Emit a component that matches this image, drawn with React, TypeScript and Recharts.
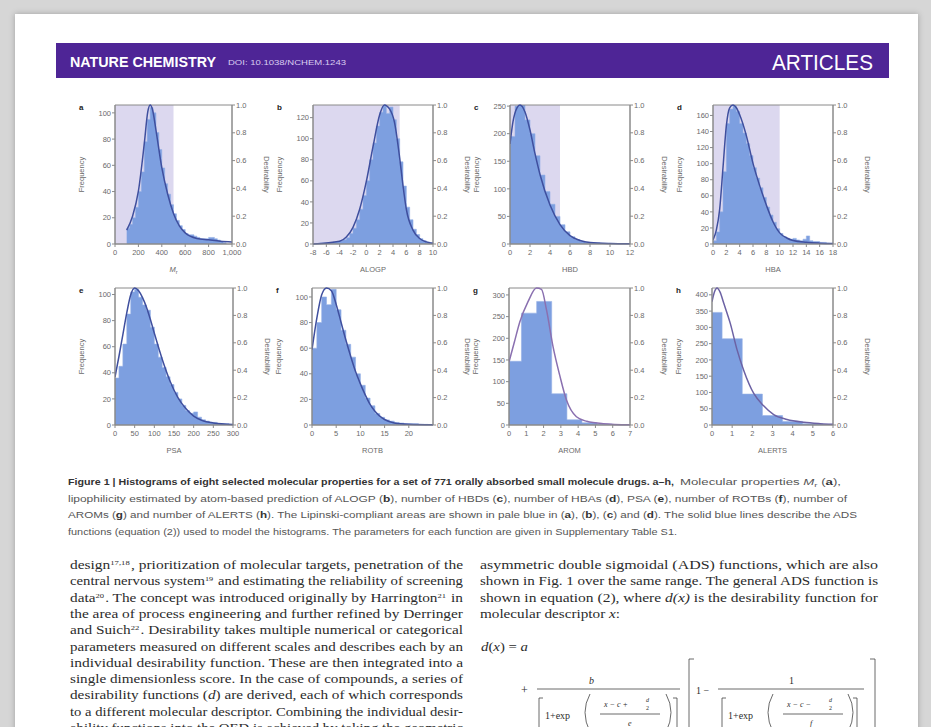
import React from "react";
import { ComposedChart, Area, Line, XAxis, YAxis, ReferenceArea } from "recharts";

// ── Histogram data (bin edges + counts), ADS curves (x + desirability) ──────

const mrEdges = [100, 125, 150, 175, 200, 225, 250, 275, 300, 325, 350, 375, 400, 425, 450, 475, 500, 525, 550, 575, 600, 625, 650, 675, 700, 725, 750, 775, 800, 825, 850, 875, 900, 925, 950];
const mrCounts = [12, 15, 20, 28, 40, 55, 78, 95, 104, 100, 85, 72, 58, 46, 38, 30, 23, 18, 14, 11, 8, 7, 7, 6, 5, 4, 4, 4, 5, 5, 4, 3, 2, 1];
const mrCurveX = [100, 150, 200, 250, 280, 300, 320, 350, 400, 450, 500, 550, 600, 700, 800, 900, 1000];
const mrCurveD = [0.1, 0.2, 0.38, 0.72, 0.95, 1.0, 0.97, 0.82, 0.55, 0.36, 0.22, 0.13, 0.08, 0.04, 0.03, 0.02, 0.015];

const alogpEdges = [-7, -6.5, -6, -5.5, -5, -4.5, -4, -3.5, -3, -2.5, -2, -1.5, -1, -0.5, 0, 0.5, 1, 1.5, 2, 2.5, 3, 3.5, 4, 4.5, 5, 5.5, 6, 6.5, 7, 7.5, 8, 8.5, 9, 9.5, 10];
const alogpCounts = [1, 1, 1, 1, 2, 2, 3, 4, 6, 10, 15, 23, 33, 46, 60, 80, 96, 112, 125, 131, 124, 130, 118, 100, 78, 55, 35, 23, 14, 9, 5, 3, 2, 1];
const alogpCurveX = [-8, -4, -3, -2, -1, 0, 1, 2, 2.7, 3.5, 4.2, 5, 5.5, 6, 7, 8, 9, 10];
const alogpCurveD = [0.0, 0.02, 0.05, 0.12, 0.25, 0.45, 0.7, 0.93, 1.0, 0.97, 0.88, 0.62, 0.42, 0.25, 0.1, 0.04, 0.015, 0.005];

const hbdEdges = [0, 0.5, 1, 1.5, 2, 2.5, 3, 3.5, 4, 4.5, 5, 5.5, 6, 6.5, 7, 7.5, 8, 8.5, 9, 9.5, 10, 10.5, 11];
const hbdCounts = [195, 250, 255, 225, 200, 160, 125, 95, 72, 50, 35, 22, 13, 8, 5, 3, 2, 2, 1, 1, 1, 0.5];
const hbdCurveX = [0, 0.3, 0.7, 1, 1.5, 2, 2.5, 3, 4, 5, 6, 7, 8, 10, 12];
const hbdCurveD = [0.72, 0.88, 0.98, 1.0, 0.95, 0.82, 0.65, 0.5, 0.28, 0.14, 0.06, 0.025, 0.01, 0.003, 0.001];

const hbaEdges = [0, 0.5, 1, 1.5, 2, 2.5, 3, 3.5, 4, 4.5, 5, 5.5, 6, 6.5, 7, 7.5, 8, 8.5, 9, 9.5, 10, 10.5, 11, 11.5, 12, 12.5, 13, 13.5, 14, 14.5, 15, 15.5, 16, 16.5, 17, 17.5];
const hbaCounts = [4, 15, 40, 90, 150, 168, 172, 165, 150, 138, 125, 110, 95, 82, 70, 58, 46, 36, 27, 19, 13, 9, 7, 6, 7, 5, 4, 6, 10, 4, 3, 3, 2, 2, 1];
const hbaCurveX = [0, 0.5, 1, 1.5, 2, 2.5, 3, 3.5, 4, 5, 6, 7, 8, 9, 10, 11, 12, 14, 16, 18];
const hbaCurveD = [0.03, 0.1, 0.25, 0.55, 0.85, 0.98, 1.0, 0.98, 0.93, 0.78, 0.58, 0.42, 0.28, 0.16, 0.08, 0.045, 0.025, 0.012, 0.006, 0.003];

const psaEdges = [0, 10, 20, 30, 40, 50, 60, 70, 80, 90, 100, 110, 120, 130, 140, 150, 160, 170, 180, 190, 200, 210, 220, 230, 240, 250, 260, 270, 280, 290];
const psaCounts = [36, 45, 62, 85, 102, 104, 98, 92, 88, 75, 62, 52, 44, 37, 31, 25, 20, 15, 11, 9, 10, 6, 4, 3, 2, 2, 1, 1, 1];
const psaCurveX = [0, 10, 20, 30, 40, 50, 60, 70, 80, 90, 100, 120, 140, 160, 180, 200, 220, 250, 300];
const psaCurveD = [0.35, 0.5, 0.66, 0.82, 0.95, 1.0, 0.98, 0.93, 0.86, 0.77, 0.67, 0.48, 0.32, 0.2, 0.12, 0.065, 0.035, 0.015, 0.004];

const rotbEdges = [0, 1, 2, 3, 4, 5, 6, 7, 8, 9, 10, 11, 12, 13, 14, 15, 16, 17, 18, 19, 20, 21, 22, 23, 24];
const rotbCounts = [60, 80, 100, 94, 106, 90, 74, 63, 53, 40, 31, 21, 15, 9, 6, 4, 3, 2, 1.5, 1, 1, 1, 0.5, 0.5];
const rotbCurveX = [0, 1, 2, 3, 4, 5, 6, 7, 8, 9, 10, 11, 12, 13, 14, 15, 17, 20, 25];
const rotbCurveD = [0.55, 0.78, 0.95, 1.0, 0.98, 0.88, 0.75, 0.62, 0.5, 0.39, 0.3, 0.22, 0.15, 0.1, 0.065, 0.04, 0.015, 0.005, 0.001];

const aromEdges = [0, 0.72, 1.6, 2.47, 3.35, 4.22, 5.1, 5.97];
const aromCounts = [147, 258, 285, 72, 12, 5, 2];
const aromCurveX = [0, 0.3, 0.62, 1.1, 1.59, 1.88, 2.17, 2.55, 2.94, 3.33, 3.9, 4.5, 5.45, 7];
const aromCurveD = [0.46, 0.6, 0.75, 0.9, 1.0, 0.99, 0.84, 0.57, 0.36, 0.18, 0.06, 0.027, 0.01, 0.002];

const alertsEdges = [0, 0.5, 1.5, 2.5, 3.5, 4.5, 5.5, 6];
const alertsCounts = [346, 265, 95, 29, 11, 4, 2];
const alertsCurveX = [0, 0.12, 0.25, 0.4, 0.58, 0.91, 1.24, 1.57, 2.07, 2.56, 3.06, 3.72, 4.55, 5.37, 6];
const alertsCurveD = [0.9, 0.97, 1.0, 0.97, 0.89, 0.74, 0.55, 0.4, 0.23, 0.14, 0.075, 0.04, 0.02, 0.01, 0.005];

// ── Tick labels ──────────────────────────────────────────────────────────────

const mrTicks = [0, 200, 400, 600, 800, 1000];
const alogpTicks = [-8, -6, -4, -2, 0, 2, 4, 6, 8, 10];
const hbdTicks = [0, 2, 4, 6, 8, 10, 12];
const hbaTicks = [0, 2, 4, 6, 8, 10, 12, 14, 16, 18];
const psaTicks = [0, 50, 100, 150, 200, 250, 300];
const rotbTicks = [0, 5, 10, 15, 20];
const aromTicks = [0, 1, 2, 3, 4, 5, 6, 7];
const alertsTicks = [0, 1, 2, 3, 4, 5, 6];
const freq100Ticks = [0, 20, 40, 60, 80, 100];
const freq120Ticks = [0, 20, 40, 60, 80, 100, 120];
const freq250Ticks = [0, 50, 100, 150, 200, 250];
const freq160Ticks = [0, 20, 40, 60, 80, 100, 120, 140, 160];
const freq300Ticks = [0, 50, 100, 150, 200, 250, 300];
const freq400Ticks = [0, 50, 100, 150, 200, 250, 300, 350, 400];
const desTicks = [0, 0.2, 0.4, 0.6, 0.8, 1.0];

// ── Styling ──────────────────────────────────────────────────────────────────

const SANS = "'Liberation Sans', Arial, sans-serif";
const SERIF = "'Liberation Serif', 'Times New Roman', serif";
const HIST = "#7d9fe0";
const SHADE = "#dcd8ef";
const AXIS = "#8a8a8a";
const TICK = "#6a6a6a";
const CURVE = "#3f4f9e";
const PURPLE = "#4e2596";

type Panel = {
  letter: string;
  title: React.ReactNode;
  left: number;
  top: number;
  w: number;
  h: number;
  edges: number[];
  counts: number[];
  curveX: number[];
  curveD: number[];
  xDomain: [number, number];
  xTicks: number[];
  yMax: number;
  yTicks: number[];
  shade?: [number, number];
  curveColor: string;
  fmtX?: (v: number) => string;
};

const panels: Panel[] = [
  { letter: "a", title: <><tspan fontStyle="italic">M</tspan><tspan fontSize={5.5} dy={1.5}>r</tspan></>, left: 115, top: 105, w: 117, h: 139, edges: mrEdges, counts: mrCounts, curveX: mrCurveX, curveD: mrCurveD, xDomain: [0, 1000], xTicks: mrTicks, yMax: 106, yTicks: freq100Ticks, shade: [0, 500], curveColor: CURVE, fmtX: (v) => (v === 1000 ? "1,000" : String(v)) },
  { letter: "b", title: "ALOGP", left: 313, top: 105, w: 120, h: 139, edges: alogpEdges, counts: alogpCounts, curveX: alogpCurveX, curveD: alogpCurveD, xDomain: [-8, 10], xTicks: alogpTicks, yMax: 132, yTicks: freq120Ticks, shade: [-8, 5], curveColor: CURVE },
  { letter: "c", title: "HBD", left: 510, top: 105, w: 120, h: 139, edges: hbdEdges, counts: hbdCounts, curveX: hbdCurveX, curveD: hbdCurveD, xDomain: [0, 12], xTicks: hbdTicks, yMax: 252, yTicks: freq250Ticks, shade: [0, 5], curveColor: CURVE },
  { letter: "d", title: "HBA", left: 713, top: 105, w: 120, h: 139, edges: hbaEdges, counts: hbaCounts, curveX: hbaCurveX, curveD: hbaCurveD, xDomain: [0, 18], xTicks: hbaTicks, yMax: 173, yTicks: freq160Ticks, shade: [0, 10], curveColor: CURVE },
  { letter: "e", title: "PSA", left: 115, top: 288, w: 118, h: 137, edges: psaEdges, counts: psaCounts, curveX: psaCurveX, curveD: psaCurveD, xDomain: [0, 300], xTicks: psaTicks, yMax: 105, yTicks: freq100Ticks, curveColor: CURVE },
  { letter: "f", title: "ROTB", left: 312, top: 288, w: 121, h: 137, edges: rotbEdges, counts: rotbCounts, curveX: rotbCurveX, curveD: rotbCurveD, xDomain: [0, 25], xTicks: rotbTicks, yMax: 107, yTicks: freq100Ticks, curveColor: CURVE },
  { letter: "g", title: "AROM", left: 509, top: 288, w: 121, h: 137, edges: aromEdges, counts: aromCounts, curveX: aromCurveX, curveD: aromCurveD, xDomain: [0, 7], xTicks: aromTicks, yMax: 316, yTicks: freq300Ticks, curveColor: "#8a70b0" },
  { letter: "h", title: "ALERTS", left: 712, top: 288, w: 121, h: 137, edges: alertsEdges, counts: alertsCounts, curveX: alertsCurveX, curveD: alertsCurveD, xDomain: [0, 6], xTicks: alertsTicks, yMax: 421, yTicks: freq400Ticks, curveColor: "#6c62a4" },
];

// merge histogram edges and curve samples into one table for the chart
function buildRows(p: Panel) {
  const rows: { x: number; f?: number; d?: number }[] = p.edges.map((x, i) => ({
    x,
    f: i < p.counts.length ? p.counts[i] : 0,
  }));
  p.curveX.forEach((x, i) => rows.push({ x, d: p.curveD[i] }));
  rows.sort((a, b) => a.x - b.x);
  return rows;
}

const ML = 28;
const MR = 28;
const MT = 6;
const XH = 16;
const tickStyle = { fontSize: 7.5, fill: TICK, fontFamily: SANS };

function HistPanel({ p }: { p: Panel }) {
  return (
    <div style={{ position: "absolute", left: p.left - ML, top: p.top - MT }}>
      <ComposedChart
        width={p.w + ML + MR}
        height={p.h + MT + XH}
        data={buildRows(p)}
        margin={{ top: MT, right: 0, bottom: 0, left: 0 }}
      >
        <XAxis
          type="number"
          dataKey="x"
          domain={p.xDomain}
          ticks={p.xTicks}
          interval={0}
          allowDataOverflow
          height={XH}
          tickSize={3}
          tickMargin={3}
          stroke={AXIS}
          tick={tickStyle}
          tickFormatter={p.fmtX}
        />
        <YAxis
          yAxisId="f"
          domain={[0, p.yMax]}
          ticks={p.yTicks}
          interval={0}
          allowDataOverflow
          width={ML}
          tickSize={3}
          tickMargin={1}
          stroke={AXIS}
          tick={tickStyle}
        />
        <YAxis
          yAxisId="d"
          orientation="right"
          domain={[0, 1]}
          ticks={desTicks}
          interval={0}
          width={MR}
          tickSize={3}
          tickMargin={1}
          stroke={AXIS}
          tick={tickStyle}
          tickFormatter={(v: number) => v.toFixed(1)}
        />
        {p.shade && (
          <ReferenceArea
            yAxisId="f"
            x1={p.shade[0]}
            x2={p.shade[1]}
            y1={0}
            y2={p.yMax}
            fill={SHADE}
            fillOpacity={1}
            stroke="none"
          />
        )}
        <Area
          yAxisId="f"
          type="stepAfter"
          dataKey="f"
          connectNulls
          fill={HIST}
          fillOpacity={1}
          stroke="#95b0e6"
          strokeWidth={0.6}
          isAnimationActive={false}
        />
        <Line
          yAxisId="d"
          type="monotone"
          dataKey="d"
          connectNulls
          stroke={p.curveColor}
          strokeWidth={1.5}
          dot={false}
          isAnimationActive={false}
        />
        <ReferenceArea yAxisId="d" y1={0} y2={1} fill="none" stroke={AXIS} strokeWidth={1} />
      </ComposedChart>
    </div>
  );
}

// ── Page text ────────────────────────────────────────────────────────────────

function Sup({ children }: { children: React.ReactNode }) {
  return (
    <>
      <tspan fontSize={7} dy={-4}>{children}</tspan>
      <tspan dy={4}>{"\u200a"}</tspan>
    </>
  );
}

const leftColumn: React.ReactNode[] = [
  <>design<Sup>17,18</Sup>, prioritization of molecular targets, penetration of the</>,
  <>central nervous system<Sup>19</Sup> and estimating the reliability of screening</>,
  <>data<Sup>20</Sup>. The concept was introduced originally by Harrington<Sup>21</Sup> in</>,
  <>the area of process engineering and further refined by Derringer</>,
  <>and Suich<Sup>22</Sup>. Desirability takes multiple numerical or categorical</>,
  <>parameters measured on different scales and describes each by an</>,
  <>individual desirability function. These are then integrated into a</>,
  <>single dimensionless score. In the case of compounds, a series of</>,
  <>desirability functions (<tspan fontStyle="italic">d</tspan>) are derived, each of which corresponds</>,
  <>to a different molecular descriptor. Combining the individual desir-</>,
  <>ability functions into the QED is achieved by taking the geometric</>,
];

const rightColumn: { t: React.ReactNode; w?: number }[] = [
  { t: <>asymmetric double sigmoidal (ADS) functions, which are also</> },
  { t: <>shown in Fig. 1 over the same range. The general ADS function is</> },
  { t: <>shown in equation (2), where <tspan fontStyle="italic">d(x)</tspan> is the desirability function for</> },
  { t: <>molecular descriptor <tspan fontStyle="italic">x</tspan>:</>, w: 140 },
];

const B = ({ children }: { children: React.ReactNode }) => <tspan fontWeight="bold" fill="#333">{children}</tspan>;

const captionLines: { t: React.ReactNode; x: number; w: number }[] = [
  { t: <>lipophilicity estimated by atom-based prediction of ALOGP (<B>b</B>), number of HBDs (<B>c</B>), number of HBAs (<B>d</B>), PSA (<B>e</B>), number of ROTBs (<B>f</B>), number of</>, x: 68, w: 779 },
  { t: <>AROMs (<B>g</B>) and number of ALERTS (<B>h</B>). The Lipinski-compliant areas are shown in pale blue in (<B>a</B>), (<B>b</B>), (<B>c</B>) and (<B>d</B>). The solid blue lines describe the ADS</>, x: 68, w: 789 },
  { t: <>functions (equation (2)) used to model the histograms. The parameters for each function are given in Supplementary Table S1.</>, x: 68, w: 609 },
];

function Overlay() {
  const ln = { stroke: "#444", strokeWidth: 0.8, fill: "none" };
  return (
    <svg width={931} height={727} style={{ position: "absolute", left: 0, top: 0, pointerEvents: "none" }}>
      {/* header */}
      <text x={70} y={67} fill="#fff" fontFamily={SANS} fontWeight="bold" fontSize={15.5} textLength={146} lengthAdjust="spacingAndGlyphs">NATURE CHEMISTRY</text>
      <text x={228} y={65} fill="#d9cdf0" fontFamily={SANS} fontSize={7.5} textLength={118} lengthAdjust="spacingAndGlyphs">DOI: 10.1038/NCHEM.1243</text>
      <text x={772} y={70} fill="#fff" fontFamily={SANS} fontSize={22} textLength={101} lengthAdjust="spacingAndGlyphs">ARTICLES</text>

      {/* panel labels */}
      {panels.map((p) => {
        const cx = p.left + p.w / 2;
        const cy = p.top + p.h / 2;
        return (
          <g key={p.letter} fontFamily={SANS}>
            <text x={p.left - 36} y={p.top + 5} fontSize={8} fontWeight="bold" fill="#222">{p.letter}</text>
            <text x={p.left - 31} y={cy} fontSize={7.5} fill={TICK} textAnchor="middle" transform={`rotate(-90 ${p.left - 31} ${cy})`}>Frequency</text>
            <text x={p.left + p.w + 32} y={cy} fontSize={7.5} fill={TICK} textAnchor="middle" transform={`rotate(90 ${p.left + p.w + 32} ${cy})`}>Desirability</text>
            <text x={cx} y={p.top + p.h + 28} fontSize={7.5} fill={TICK} textAnchor="middle">{p.title}</text>
          </g>
        );
      })}

      {/* caption */}
      <g fontFamily={SANS} fontSize={8.5} fill="#555">
        <text x={68} y={485} fontWeight="bold" fill="#333" textLength={606} lengthAdjust="spacingAndGlyphs">
          Figure 1 | Histograms of eight selected molecular properties for a set of 771 orally absorbed small molecule drugs. a–h,
        </text>
        <text x={680} y={485} textLength={161} lengthAdjust="spacingAndGlyphs">
          Molecular properties <tspan fontStyle="italic">M</tspan><tspan fontSize={6} dy={1.5}>r</tspan><tspan dy={-1.5}> (</tspan><B>a</B>),
        </text>
        {captionLines.map((c, i) => (
          <text key={i} x={c.x} y={502 + i * 16.3} textLength={c.w} lengthAdjust="spacingAndGlyphs">{c.t}</text>
        ))}
      </g>

      {/* body text */}
      <g fontFamily={SERIF} fontSize={12.5} fill="#2b2b2b">
        {leftColumn.map((t, i) => (
          <text key={i} x={70} y={569 + i * 16.3} textLength={393} lengthAdjust="spacingAndGlyphs">{t}</text>
        ))}
        {rightColumn.map((r, i) => (
          <text key={i} x={480} y={569 + i * 16.3} textLength={r.w ?? 398} lengthAdjust="spacingAndGlyphs">{r.t}</text>
        ))}
        <text x={481} y={651} textLength={47} lengthAdjust="spacingAndGlyphs"><tspan fontStyle="italic">d</tspan>(<tspan fontStyle="italic">x</tspan>) = <tspan fontStyle="italic">a</tspan></text>
      </g>

      {/* equation (2) */}
      <g fontFamily={SERIF} fill="#2b2b2b" fontStyle="italic">
        <text x={521} y={694} fontSize={12} fontStyle="normal">+</text>
        <text x={589} y={684} fontSize={10}>b</text>
        <line x1={537} x2={680} y1={689} y2={689} {...ln} />
        <path d="M543 698 H539 V732" {...ln} />
        <text x={545} y={719} fontSize={10} fontStyle="normal">1+exp</text>
        <path d="M590 694 Q580 712 590 732" {...ln} />
        <text x={604} y={707} fontSize={8}>x − c +</text>
        <text x={646} y={702} fontSize={6}>d</text>
        <text x={646} y={710} fontSize={6} fontStyle="normal">2</text>
        <line x1={600} x2={660} y1={714} y2={714} {...ln} />
        <text x={628} y={726} fontSize={8}>e</text>
        <path d="M666 694 Q676 712 666 732" {...ln} />
        <path d="M673 698 H677 V732" {...ln} />

        <path d="M694 659 H689 V735" {...ln} />
        <text x={696} y={694} fontSize={10} fontStyle="normal">1 −</text>
        <text x={789} y={684} fontSize={10} fontStyle="normal">1</text>
        <line x1={718} x2={864} y1={689} y2={689} {...ln} />
        <path d="M726 698 H722 V732" {...ln} />
        <text x={728} y={719} fontSize={10} fontStyle="normal">1+exp</text>
        <path d="M773 694 Q763 712 773 732" {...ln} />
        <text x={787} y={707} fontSize={8}>x − c −</text>
        <text x={829} y={702} fontSize={6}>d</text>
        <text x={829} y={710} fontSize={6} fontStyle="normal">2</text>
        <line x1={783} x2={843} y1={714} y2={714} {...ln} />
        <text x={810} y={726} fontSize={8}>f</text>
        <path d="M848 694 Q858 712 848 732" {...ln} />
        <path d="M853 698 H857 V732" {...ln} />
        <path d="M870 659 H875 V735" {...ln} />
      </g>
    </svg>
  );
}

export default function App() {
  return (
    <div
      style={{
        position: "absolute",
        left: 0,
        top: 0,
        width: 931,
        height: 727,
        overflow: "hidden",
        background: "#d6d6d6",
      }}
    >
      <div
        style={{
          position: "absolute",
          left: 15,
          top: 14,
          width: 903,
          height: 740,
          background: "#fff",
          boxShadow: "0 0 6px rgba(0,0,0,0.25)",
        }}
      />
      <div style={{ position: "absolute", left: 56, top: 43, width: 833, height: 35, background: PURPLE }} />
      {panels.map((p) => (
        <HistPanel key={p.letter} p={p} />
      ))}
      <Overlay />
    </div>
  );
}
